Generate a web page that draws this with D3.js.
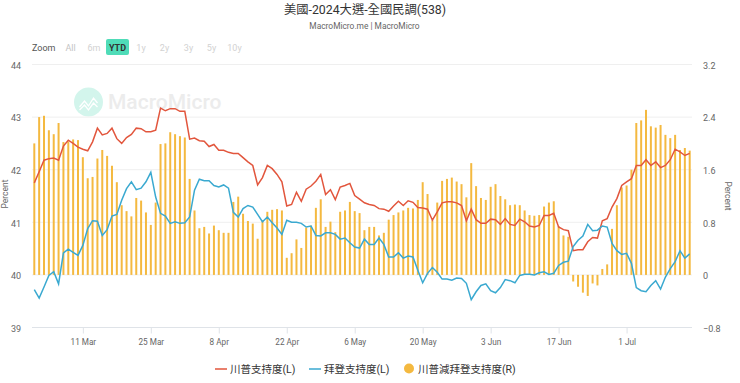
<!DOCTYPE html>
<html>
<head>
<meta charset="utf-8">
<script src="https://cdn.jsdelivr.net/npm/d3@7"></script>
<style>
  html, body { margin: 0; padding: 0; background: #fff; overflow: hidden; }
  text { font-family: Roboto, "Noto Sans CJK TC", sans-serif; }
</style>
</head>
<body>
<div class="canvas"></div>
<script>
const trump = [41.75,41.96,42.18,42.21,42.22,42.18,42.45,42.56,42.50,42.43,42.39,42.36,42.53,42.79,42.66,42.69,42.79,42.59,42.50,42.61,42.67,42.79,42.78,42.72,42.72,42.75,43.17,43.12,43.16,43.16,43.11,43.11,42.58,42.60,
  42.55,42.54,42.44,42.48,42.37,42.37,42.33,42.31,42.31,42.23,42.15,42.08,41.71,41.85,42.08,42.02,41.91,41.77,41.31,41.34,41.57,41.40,41.63,41.69,41.78,41.91,41.53,41.62,41.43,41.67,41.70,41.74,41.51,41.44,
  41.37,41.34,41.32,41.26,41.25,41.21,41.31,41.40,41.32,41.41,41.38,41.28,41.27,41.25,41.04,41.20,41.37,41.39,41.39,41.37,41.32,41.03,41.25,41.05,40.98,40.98,41.06,41.05,40.96,41.07,40.96,40.94,41.06,41.01,
  40.93,40.91,40.94,41.13,41.13,41.17,40.91,40.86,40.84,40.46,40.48,40.48,40.63,40.71,40.70,41.03,41.07,41.29,41.45,41.70,41.77,41.83,42.08,42.08,42.19,42.08,42.15,42.04,42.08,42.19,42.39,42.34,42.27,42.31];

const biden = [39.72,39.56,39.77,39.99,40.06,39.83,40.42,40.49,40.43,40.37,40.56,40.88,41.03,41.02,40.75,40.86,41.12,41.15,41.42,41.64,41.77,41.62,41.65,41.77,41.95,41.48,41.17,41.12,40.98,41.01,40.98,40.99,41.10,41.61,
  41.82,41.79,41.79,41.70,41.67,41.71,41.65,41.19,41.10,41.26,41.32,41.29,41.15,41.01,41.10,40.99,40.89,40.77,41.04,41.00,41.00,40.98,40.91,40.93,40.75,40.74,40.80,40.80,40.77,40.68,40.70,40.61,40.53,40.51,
  40.68,40.58,40.58,40.70,40.58,40.34,40.34,40.42,40.32,40.36,40.34,40.09,39.85,40.03,40.14,40.05,39.92,39.92,39.90,39.94,39.93,39.84,39.53,39.68,39.80,39.83,39.70,39.66,39.76,39.91,39.89,39.85,39.99,40.01,
  40.01,40.00,40.04,40.06,40.01,40.03,40.18,40.24,40.26,40.54,40.66,40.74,40.96,40.84,40.85,40.93,40.91,40.60,40.46,40.39,40.41,40.22,39.76,39.70,39.68,39.80,39.89,39.73,39.96,40.12,40.25,40.46,40.32,40.40];

const spread = [2.00,2.40,2.42,2.20,2.14,2.31,2.02,2.03,2.06,2.05,1.79,1.47,1.49,1.77,1.90,1.81,1.66,1.41,1.06,0.97,0.89,1.17,1.13,0.95,0.76,1.10,1.99,2.00,2.17,2.14,2.11,2.09,1.46,0.98,
  0.71,0.73,0.63,0.75,0.68,0.64,0.64,1.11,1.19,0.93,0.82,0.78,0.55,0.82,0.96,0.99,1.00,0.98,0.26,0.33,0.54,0.41,0.72,0.75,1.02,1.15,0.73,0.81,0.65,0.96,0.98,1.11,0.97,0.94,
  0.68,0.73,0.73,0.60,0.64,0.84,0.91,0.95,0.98,1.02,1.01,1.14,1.41,1.23,0.83,1.10,1.43,1.46,1.48,1.42,1.38,1.18,1.70,1.35,1.17,1.14,1.34,1.38,1.20,1.15,1.06,1.07,1.06,0.98,
  0.91,0.90,0.91,1.04,1.10,1.12,0.74,0.60,0.58,-0.10,-0.18,-0.27,-0.32,-0.13,-0.16,0.09,0.16,0.70,1.06,1.33,1.36,1.60,2.31,2.35,2.51,2.26,2.24,2.28,2.13,2.08,2.13,1.90,1.93,1.89];

const dates = d3.utcDay.range(new Date(Date.UTC(2024, 2, 1)), new Date(Date.UTC(2024, 6, 15)));
const tickDates = ["2024-03-11", "2024-03-25", "2024-04-08", "2024-04-22", "2024-05-06", "2024-05-20", "2024-06-03", "2024-06-17", "2024-07-01"].map((d) => new Date(d));
const leftTicks = [39, 40, 41, 42, 43, 44];
const rightTicks = [-0.8, 0, 0.8, 1.6, 2.4, 3.2];
const zoomLabels = ["All", "6m", "YTD", "1y", "2y", "3y", "5y", "10y"];

const colors = { trump: "#e2563d", biden: "#3aa9d0", spread: "#f4b940" };
const plot = { left: 32, right: 692, top: 64.5, bottom: 327.5 };

const svg = d3
  .select(".canvas")
  .append("svg")
  .attr("width", 740)
  .attr("height", 383);

const x = d3
  .scaleUtc()
  .domain([dates[0], dates[dates.length - 1]])
  .range([34.3, 689.7]);
const yLeft = d3.scaleLinear().domain([39, 44]).range([plot.bottom, plot.top]);
const yRight = d3.scaleLinear().domain([-0.8, 3.2]).range([plot.bottom, plot.top]);

// title
svg.append("text").attr("x", 365).attr("y", 13.5).attr("text-anchor", "middle")
  .attr("font-size", 12.3).attr("fill", "#333").text("美國-2024大選-全國民調(538)");
svg.append("text").attr("x", 364.5).attr("y", 28.5).attr("text-anchor", "middle")
  .attr("font-size", 8.4).attr("fill", "#666").text("MacroMicro.me | MacroMicro");

// range buttons
svg.append("text").attr("x", 32).attr("y", 50.5).attr("font-size", 9).attr("fill", "#555").text("Zoom");
const zoomX = [70.5, 94, 117.5, 141, 164.5, 188.5, 211.5, 234.5];
svg.append("rect").attr("x", 106).attr("y", 39).attr("width", 23).attr("height", 16).attr("rx", 2).attr("fill", "#4fdcb8");
svg.selectAll(".zoom").data(zoomLabels).enter().append("text")
  .attr("x", (d, i) => zoomX[i]).attr("y", 50.5).attr("text-anchor", "middle").attr("font-size", 9)
  .attr("font-weight", (d) => (d === "YTD" ? 700 : 400))
  .attr("fill", (d) => (d === "YTD" ? "#333" : d === "All" ? "#c4c4c4" : "#d2d2d2"))
  .text((d) => d);

// watermark
const mark = svg.append("g").attr("transform", "translate(88.5, 102)");
mark.append("circle").attr("r", 14.5).attr("fill", "#d3f5ec");
mark.append("path").attr("d", "M-9,5 L-4,-1 L0,4 L5,-4 L9,1 M-9,8 L-4,3 L0,8 L5,1 L9,5")
  .attr("fill", "none").attr("stroke", "#fff").attr("stroke-width", 1.3);
svg.append("text").attr("x", 108).attr("y", 109).attr("font-size", 21).attr("font-weight", 500)
  .attr("fill", "#ececec").text("MacroMicro");

// axes
const leftAxis = d3.axisLeft(yLeft).tickValues(leftTicks).tickSize(0).tickPadding(0).tickFormat(d3.format("d"));
const rightAxis = d3.axisRight(yRight).tickValues(rightTicks).tickSize(0).tickPadding(0).tickFormat((d) => (d === 0 ? "0" : d3.format(".1f")(d)));
const bottomAxis = d3.axisBottom(x).tickValues(tickDates).tickSize(6).tickPadding(6).tickFormat(d3.utcFormat("%-d %b"));

const gridGroup = svg.append("g");
gridGroup.selectAll("line").data(leftTicks.slice(1)).enter().append("line")
  .attr("x1", plot.left).attr("x2", plot.right)
  .attr("y1", (d) => yLeft(d)).attr("y2", (d) => yLeft(d))
  .attr("stroke", "#efefef");

const styleAxis = (g) => {
  g.select(".domain").remove();
  g.selectAll("text").attr("font-size", 9).attr("fill", "#666").style("font-family", "Roboto, sans-serif");
};
svg.append("g").attr("transform", "translate(21, 1)").call(leftAxis).call(styleAxis);
svg.append("g").attr("transform", `translate(703, 1)`).call(rightAxis).call(styleAxis);

// bars
svg.append("g").selectAll("rect").data(spread).enter().append("rect")
  .attr("x", (d, i) => x(dates[i]) - 1)
  .attr("width", 2)
  .attr("y", (d) => Math.min(yRight(d), yRight(0)))
  .attr("height", (d) => Math.abs(yRight(d) - yRight(0)))
  .attr("fill", colors.spread);

const bottom = svg.append("g").attr("transform", `translate(0, ${plot.bottom})`).call(bottomAxis);
bottom.select(".domain").remove();
bottom.selectAll("text").attr("font-size", 8.2).attr("fill", "#666").style("font-family", "Roboto, sans-serif");
bottom.selectAll("line").attr("stroke", "#dfe3e8");
svg.append("line").attr("x1", plot.left).attr("x2", plot.right).attr("y1", plot.bottom).attr("y2", plot.bottom)
  .attr("stroke", "#dfe3e8");

// lines
const lineFor = (values) => d3.line().x((d, i) => x(dates[i])).y((d) => yLeft(d))(values);
svg.append("path").attr("d", lineFor(trump)).attr("fill", "none").attr("stroke", colors.trump).attr("stroke-width", 1.5);
svg.append("path").attr("d", lineFor(biden)).attr("fill", "none").attr("stroke", colors.biden).attr("stroke-width", 1.5);

// axis titles
svg.append("text").attr("transform", "translate(8, 194) rotate(-90)").attr("text-anchor", "middle")
  .attr("font-size", 8.5).attr("fill", "#666").text("Percent");
svg.append("text").attr("transform", "translate(725, 196) rotate(90)").attr("text-anchor", "middle")
  .attr("font-size", 8.5).attr("fill", "#666").text("Percent");

// legend
const legendY = 369;
svg.append("line").attr("x1", 215).attr("x2", 227).attr("y1", legendY).attr("y2", legendY).attr("stroke", colors.trump).attr("stroke-width", 1.5);
svg.append("text").attr("x", 230).attr("y", legendY + 4).attr("font-size", 10.5).attr("fill", "#333").text("川普支持度(L)");
svg.append("line").attr("x1", 309).attr("x2", 321).attr("y1", legendY).attr("y2", legendY).attr("stroke", colors.biden).attr("stroke-width", 1.5);
svg.append("text").attr("x", 324).attr("y", legendY + 4).attr("font-size", 10.5).attr("fill", "#333").text("拜登支持度(L)");
svg.append("circle").attr("cx", 409).attr("cy", legendY - 0.5).attr("r", 5).attr("fill", colors.spread);
svg.append("text").attr("x", 418).attr("y", legendY + 4).attr("font-size", 10.5).attr("fill", "#333").text("川普減拜登支持度(R)");
</script>
</body>
</html>
